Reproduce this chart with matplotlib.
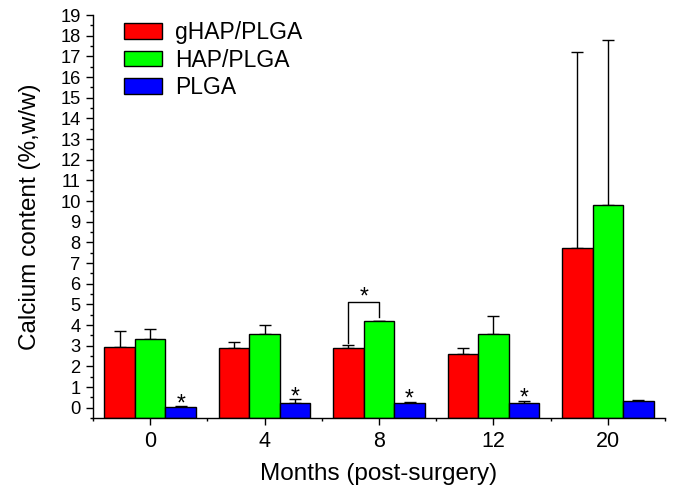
import numpy as np
import matplotlib.pyplot as plt
from matplotlib.ticker import FixedLocator

plt.rcParams['font.family'] = ['Liberation Sans', 'DejaVu Sans']

months = ['0', '4', '8', '12', '20']
ghap = [2.95, 2.87, 2.90, 2.61, 7.71]
ghap_err = [0.75, 0.29, 0.15, 0.29, 9.51]
hap = [3.34, 3.58, 4.18, 3.57, 9.79]
hap_err = [0.45, 0.44, 0.03, 0.88, 8.01]
plga = [0.05, 0.24, 0.21, 0.24, 0.32]
plga_err = [0.03, 0.17, 0.08, 0.10, 0.07]
plga_star = [True, True, True, True, False]

series = [
    ('gHAP/PLGA', ghap, ghap_err, '#ff0000'),
    ('HAP/PLGA', hap, hap_err, '#00ff00'),
    ('PLGA', plga, plga_err, '#0000ff'),
]

ybot = -0.5
width = 0.267
x = np.arange(len(months))

fig = plt.figure(figsize=(6.75, 4.9), dpi=100)
ax = fig.add_axes([93 / 675, 72 / 490, 572 / 675, 403 / 490])

for i, (name, vals, errs, col) in enumerate(series):
    vals = np.array(vals)
    pos = x + (i - 1) * width
    ax.bar(pos, vals - ybot, width, bottom=ybot, color=col, edgecolor='black',
           linewidth=1.0, label=name, zorder=2)
    ax.errorbar(pos, vals, yerr=[np.zeros(len(vals)), errs], fmt='none',
                ecolor='black', elinewidth=1.0, capsize=4, capthick=1.0, zorder=1)

# asterisks over PLGA bars
for xi, v, e, s in zip(x, plga, plga_err, plga_star):
    if s:
        ax.annotate('*', (xi + width, v + e), xytext=(0, -3), textcoords='offset points',
                    ha='center', va='baseline', fontsize=16.5)

# significance bracket at month 8
gi = 2
left_x = gi - width
right_x = gi
top_y = 5.1
ax.plot([left_x, left_x, right_x, right_x],
        [ghap[gi] + ghap_err[gi] + 0.1, top_y, top_y, hap[gi] + hap_err[gi] + 0.16],
        color='black', lw=1.0, zorder=3)
ax.annotate('*', ((left_x + right_x) / 2, top_y), xytext=(0, -1), textcoords='offset points',
            ha='center', va='baseline', fontsize=16.5)

ax.set_xlim(-0.5, 4.5)
ax.set_ylim(ybot, 19)
ax.set_xticks(x)
ax.set_xticklabels(months)
ax.xaxis.set_minor_locator(FixedLocator(np.arange(-0.5, 5, 1)))
ax.set_yticks(np.arange(0, 20, 1))
ax.yaxis.set_minor_locator(FixedLocator(np.arange(-0.5, 19, 1)))

ax.spines['top'].set_visible(False)
ax.spines['right'].set_visible(False)
for sp in ('left', 'bottom'):
    ax.spines[sp].set_linewidth(1.0)
ax.tick_params(which='major', direction='out', length=5, width=1.0, pad=4)
ax.tick_params(axis='x', which='major', labelsize=15.5)
ax.tick_params(axis='y', which='major', labelsize=13.2)
ax.tick_params(which='minor', direction='out', length=2.5, width=1.0)

ax.set_xlabel('Months (post-surgery)', fontsize=17.5, labelpad=8)
ax.set_ylabel('Calcium content (%,w/w)', fontsize=17.5, labelpad=14)

ax.legend(loc='upper left', bbox_to_anchor=(0.055, 0.985), frameon=False, fontsize=16.5,
          handlelength=1.65, handleheight=0.68, handletextpad=0.55, labelspacing=0.2,
          borderpad=0, borderaxespad=0)

fig.savefig('out.png', dpi=100)
